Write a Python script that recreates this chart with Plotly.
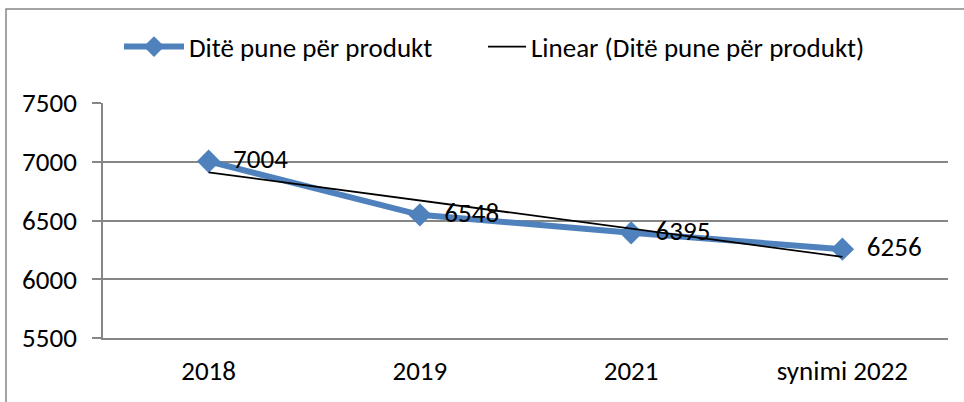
import numpy as np
import plotly.graph_objects as go

categories = ["2018", "2019", "2021", "synimi 2022"]
values = [7004, 6548, 6395, 6256]
series_name = "Ditë pune për produkt"
trend_name = "Linear (Ditë pune për produkt)"
y_ticks = [5500, 6000, 6500, 7000, 7500]

# Excel-style linear trendline (least squares on category index)
idx = np.arange(1, len(values) + 1)
slope, intercept = np.polyfit(idx, values, 1)
trend = list(slope * idx + intercept)

FONT = "Carlito, Lato, sans-serif"
FS = 27

fig = go.Figure()
fig.add_trace(go.Scatter(
    x=categories, y=values, name=series_name,
    mode="lines+markers+text",
    line=dict(color="#4F81BD", width=6),
    marker=dict(symbol="diamond", size=18, color="#4F81BD"),
    text=["  " + str(v) for v in values], textposition="middle right",
    textfont=dict(size=FS, color="black", family=FONT),
    cliponaxis=False, legend="legend",
))
fig.add_trace(go.Scatter(
    x=categories, y=trend, name=trend_name, mode="lines",
    line=dict(color="black", width=1.8), legend="legend2",
))

leg_common = dict(orientation="h", yanchor="middle", yref="container",
                  y=1 - 47 / 402, xanchor="left",
                  font=dict(size=FS, color="black", family=FONT),
                  bgcolor="rgba(0,0,0,0)")

fig.update_layout(
    width=964, height=402,
    margin=dict(l=103, r=16, t=103, b=64),
    paper_bgcolor="white", plot_bgcolor="white",
    font=dict(family=FONT, size=FS, color="black"),
    showlegend=True,
    legend=dict(x=(119 - 103) / 845, itemwidth=60, **leg_common),
    legend2=dict(x=(483 - 103) / 845, itemwidth=38, **leg_common),
    xaxis=dict(type="category", range=[-0.5, 3.5], showgrid=False,
               showline=True, linecolor="#868686", linewidth=1.5,
               ticks="", tickfont=dict(size=FS), zeroline=False,
               ticklabelstandoff=8),
    yaxis=dict(range=[5500, 7500], tickvals=y_ticks,
               showgrid=True, gridcolor="#868686", gridwidth=1.5,
               showline=True, linecolor="#868686", linewidth=1.5,
               ticks="outside", ticklen=9, tickcolor="#868686", tickwidth=1.5,
               tickfont=dict(size=FS), zeroline=False,
               ticklabelstandoff=10),
    shapes=[dict(type="rect", xref="paper", yref="paper",
                 x0=(6 - 103) / 845, x1=1.2, y0=-0.6, y1=(338 - 9) / 235,
                 line=dict(color="#868686", width=1.5), layer="below")],
)

fig.write_html("out.html", config={"displayModeBar": False},
               post_script="document.body.style.margin='0px';")
